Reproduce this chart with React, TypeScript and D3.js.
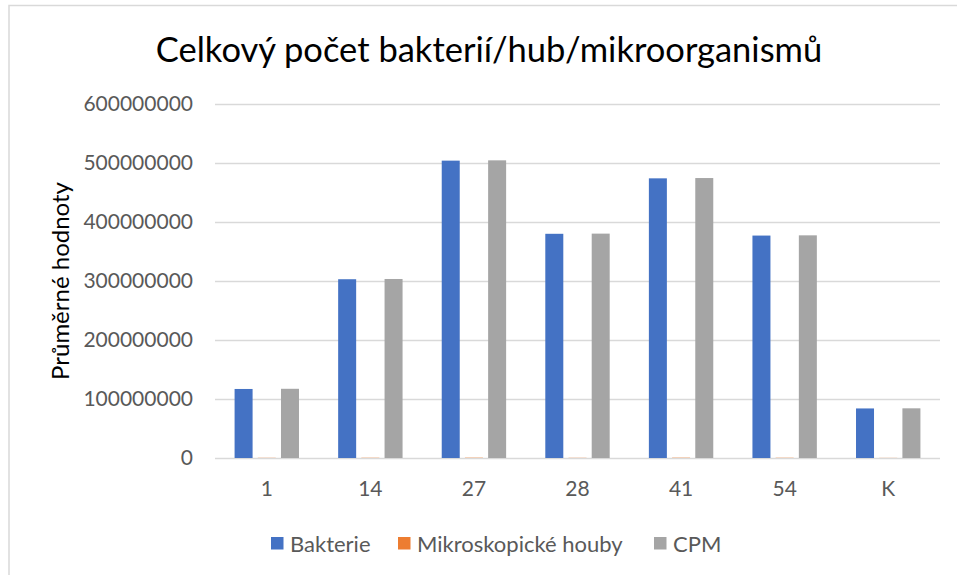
import React, { useEffect, useRef } from 'react'
import * as d3 from 'd3'

// chart values
const categories = ['1', '14', '27', '28', '41', '54', 'K']
const seriesNames = ['Bakterie', 'Mikroskopické houby', 'CPM']
const bakterie = [117000000, 303000000, 504000000, 380000000, 474000000, 377000000, 84000000]
const houby = [300000, 400000, 500000, 300000, 500000, 400000, 200000]
const cpm = [117300000, 303400000, 504500000, 380300000, 474500000, 377400000, 84200000]
const yTicks = [0, 100000000, 200000000, 300000000, 400000000, 500000000, 600000000]
const colors = ['#4472C4', '#ED7D31', '#A5A5A5']

const W = 957
const H = 575
const FONT = 'Lato, "Open Sans", sans-serif'

const App = () => {
    const ref = useRef<SVGSVGElement>(null)

    useEffect(() => {
        const svg = d3.select(ref.current)
        svg.selectAll('*').remove()

        const left = 215, right = 940, top = 104, bottom = 458

        // chart border (only top + left visible in the crop)
        svg.append('path')
            .attr('d', 'M9,575 V5.5 H957')
            .attr('fill', 'none')
            .attr('stroke', '#d9d9d9')
            .attr('stroke-width', 1.5)

        svg.append('text')
            .attr('x', 489)
            .attr('y', 62)
            .attr('text-anchor', 'middle')
            .attr('font-family', FONT)
            .attr('font-size', 34.5)
            .attr('fill', '#000')
            .text('Celkový počet bakterií/hub/mikroorganismů')

        const x = d3.scaleBand().domain(categories).range([left, right])
        const y = d3.scaleLinear().domain([0, 600000000]).range([bottom, top])

        const yAxis = d3.axisLeft(y)
            .tickValues(yTicks)
            .tickSize(-(right - left))
            .tickPadding(22)
            .tickFormat(d3.format('d'))

        const gy = svg.append('g')
            .attr('transform', 'translate(' + left + ',0)')
            .call(yAxis)
        gy.select('.domain').remove()
        gy.selectAll('.tick line').attr('stroke', '#d9d9d9').attr('stroke-width', 1.5)
        gy.selectAll('.tick text')
            .attr('font-family', FONT)
            .attr('font-size', 21)
            .attr('fill', '#595959')

        const xAxis = d3.axisBottom(x).tickSize(0).tickPadding(23)
        const gx = svg.append('g')
            .attr('transform', 'translate(0,' + bottom + ')')
            .call(xAxis)
        gx.select('.domain').remove()
        gx.selectAll('.tick text')
            .attr('font-family', FONT)
            .attr('font-size', 21)
            .attr('fill', '#595959')

        // inner band for the 3 series inside each category
        const xs = d3.scaleBand().domain(seriesNames).range([-32.2, 32.2]).paddingInner(0.224)

        const data = [bakterie, houby, cpm]
        data.forEach((vals, si) => {
            svg.append('g')
                .selectAll('rect')
                .data(vals)
                .enter().append('rect')
                .attr('x', (d, i) => x(categories[i])! + x.bandwidth() / 2 + xs(seriesNames[si])!)
                .attr('width', xs.bandwidth())
                .attr('y', d => y(d))
                .attr('height', d => bottom - y(d))
                .attr('fill', colors[si])
        })

        svg.append('text')
            .attr('transform', 'translate(69,281) rotate(-90)')
            .attr('text-anchor', 'middle')
            .attr('font-family', FONT)
            .attr('font-size', 24)
            .attr('fill', '#000')
            .text('Průměrné hodnoty')

        // legend
        const legendX = [271, 398, 654]
        const lg = svg.append('g')
        seriesNames.forEach((name, i) => {
            lg.append('rect')
                .attr('x', legendX[i])
                .attr('y', 537)
                .attr('width', 12.5)
                .attr('height', 12.5)
                .attr('fill', colors[i])
            lg.append('text')
                .attr('x', legendX[i] + 19)
                .attr('y', 551.5)
                .attr('font-family', FONT)
                .attr('font-size', 22)
                .attr('fill', '#595959')
                .text(name)
        })
    }, [])

    return (
        <svg ref={ref} width={W} height={H}
            style={{ position: 'absolute', left: 0, top: 0, background: '#fff' }} />
    )
}

export default App
